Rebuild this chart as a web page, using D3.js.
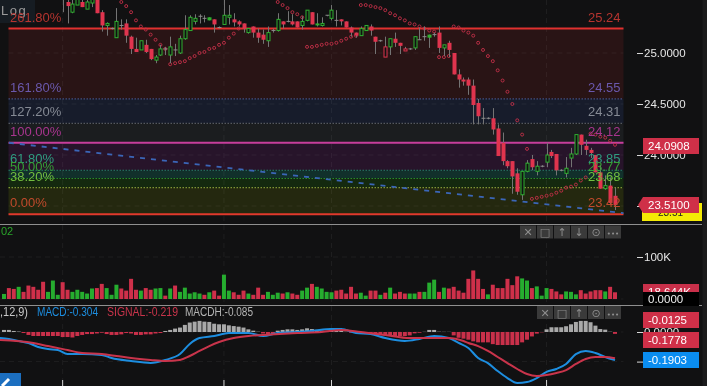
<!DOCTYPE html>
<html><head><meta charset="utf-8">
<script src="https://cdn.jsdelivr.net/npm/d3@7"></script>
<style>html,body{margin:0;padding:0;background:#111;overflow:hidden}svg{display:block;filter:blur(.45px)}text{font-family:"Liberation Sans",Arial,sans-serif}</style>
</head><body><svg id="c" width="707" height="386"></svg>
<script>
const candleStart = 12;
const opens = [25.55,25.50,25.40,25.47,25.50,25.43,25.49,25.54,25.40,25.27,25.24,25.15,25.27,25.29,25.16,25.04,25.03,25.08,25.04,24.93,24.98,25.04,24.98,25.03,25.00,25.14,25.22,25.31,25.36,25.34,25.35,25.33,25.25,25.28,25.35,25.33,25.31,25.29,25.20,25.26,25.20,25.18,25.12,25.22,25.22,25.31,25.31,25.31,25.31,25.27,25.32,25.40,25.29,25.27,25.37,25.34,25.32,25.33,25.31,25.25,25.20,25.17,25.22,25.26,25.16,25.12,24.96,25.06,25.14,25.10,25.02,25.04,25.05,25.13,25.16,25.18,25.18,25.20,25.05,25.10,25.00,24.79,24.74,24.74,24.68,24.51,24.36,24.36,24.36,24.26,24.12,23.94,23.94,23.82,23.61,23.84,23.96,23.84,23.89,23.93,24.03,24.01,23.85,23.82,23.97,24.01,24.20,24.09,24.05,24.00,23.83,23.67,23.70,23.60];
const closes = [25.53,25.46,25.48,25.53,25.45,25.50,25.54,25.39,25.27,25.29,25.24,25.31,25.27,25.17,25.04,25.01,25.12,25.01,24.94,24.96,25.04,25.04,25.06,25.03,25.14,25.23,25.35,25.34,25.36,25.34,25.32,25.28,25.25,25.37,25.37,25.30,25.28,25.24,25.24,25.20,25.15,25.13,25.20,25.22,25.33,25.28,25.31,25.28,25.25,25.31,25.42,25.28,25.27,25.29,25.37,25.42,25.32,25.31,25.25,25.20,25.17,25.24,25.27,25.22,25.11,25.12,25.06,25.14,25.10,25.07,25.04,25.04,25.16,25.13,25.16,25.15,25.18,25.05,25.08,25.03,24.79,24.74,24.72,24.68,24.49,24.38,24.36,24.36,24.25,23.99,23.94,23.89,23.79,23.64,23.84,23.92,23.88,23.89,23.89,24.00,23.99,23.85,23.85,23.87,24.01,24.20,24.10,24.05,24.02,23.83,23.67,23.70,23.53,23.51];
const highs = [25.57,25.52,25.55,25.55,25.55,25.55,25.55,25.56,25.42,25.30,25.25,25.44,25.33,25.33,25.17,25.15,25.12,25.13,25.04,24.98,25.08,25.06,25.16,25.09,25.17,25.37,25.37,25.38,25.38,25.37,25.35,25.33,25.26,25.52,25.47,25.39,25.32,25.29,25.24,25.26,25.24,25.23,25.26,25.24,25.39,25.31,25.41,25.38,25.31,25.36,25.42,25.40,25.39,25.35,25.37,25.47,25.42,25.33,25.31,25.26,25.20,25.26,25.27,25.28,25.16,25.13,25.16,25.14,25.20,25.10,25.06,25.05,25.16,25.25,25.26,25.18,25.20,25.26,25.08,25.12,25.00,24.84,24.76,24.76,24.74,24.55,24.46,24.37,24.46,24.30,24.22,23.95,23.94,23.87,23.84,23.95,24.00,23.94,23.90,24.12,24.05,24.01,23.86,23.98,24.07,24.20,24.20,24.15,24.07,24.00,23.90,23.80,23.78,23.68];
const lows = [25.40,25.29,25.39,25.47,25.45,25.43,25.45,25.39,25.21,25.17,25.23,25.15,25.23,25.10,24.99,25.01,25.03,25.00,24.93,24.90,24.97,24.98,24.90,24.97,24.99,25.13,25.22,25.28,25.29,25.30,25.32,25.20,25.24,25.28,25.28,25.26,25.26,25.20,25.19,25.15,25.10,25.09,25.06,25.20,25.21,25.24,25.30,25.27,25.25,25.23,25.31,25.28,25.26,25.26,25.36,25.32,25.26,25.27,25.25,25.16,25.15,25.17,25.22,25.17,24.99,25.11,24.96,24.98,25.06,24.99,25.02,25.03,25.03,25.13,25.12,25.05,25.16,25.00,24.97,24.96,24.79,24.66,24.68,24.59,24.30,24.30,24.30,24.35,24.20,23.99,23.90,23.87,23.62,23.61,23.56,23.83,23.85,23.80,23.88,23.88,23.97,23.80,23.84,23.78,23.88,24.00,24.00,24.00,23.97,23.83,23.67,23.66,23.51,23.46];
const redHollowBars = [78,82];
const greenSolidBars = [42,64,87];
const volumes = [12,26,24,29,17,32,29,22,41,17,44,10,40,22,17,22,17,13,25,26,36,26,10,34,25,20,48,22,20,26,22,25,26,8,25,32,17,27,13,16,13,10,16,20,8,58,20,16,10,20,13,10,27,10,17,10,15,13,16,13,10,20,27,36,29,25,17,16,20,22,13,29,13,15,8,20,20,10,15,27,13,17,13,13,13,17,17,39,46,17,27,25,29,20,15,48,68,48,24,11,34,26,26,48,33,54,49,44,26,30,8,26,24,18,11,18,17,11,21,13,18,21,21,18,29,16];
const volumeTones = "grrgrrrrrgggrrgggggrrgggrrrrgrrggrgrgggggrgrrggrrrgrrrgggrgrrggrggggrrrrrggrrgrgrrrggrgggrgrrrrrrrrgrrrrrrggrgggrrrgggrrrrrgrr";
const histogram = [.014,.014,.007,.003,-.007,-.02,-.027,-.027,-.027,-.027,-.027,-.027,-.034,-.034,-.037,-.027,-.02,-.014,-.014,-.01,-.005,-.014,-.02,-.02,-.016,-.007,-.01,-.02,-.02,-.016,-.016,-.01,-.007,.007,.014,.023,.03,.048,.064,.07,.075,.07,.068,.056,.052,.052,.045,.04,.036,.03,.018,.009,.002,-.01,-.016,-.02,.009,.014,.018,.018,.014,.018,.025,.02,.014,.009,.001,.023,.025,.018,.002,-.005,-.007,-.007,-.007,-.007,-.009,-.016,-.023,-.027,-.027,-.027,-.027,-.023,-.009,-.005,.001,.014,.014,.002,.001,.001,-.023,-.039,-.045,-.052,-.063,-.07,-.07,-.07,-.082,-.088,-.088,-.088,-.088,-.088,-.07,-.052,-.03,-.011,-.002,.018,.032,.032,.032,.039,.052,.068,.075,.075,.066,.043,.02,.016,.002,-.0125];
const macdBars = [-1,1,3,5,7,9,11,13,16,20,22,26,30,33,36,38,40,43,46,48,50,53,56,60,63,67,69,72,75,78,82,85,88,91,93,95,97,99,101,103,105,107,109,111,113,115,117,119,121,123,125];
const macdValues = [-.041,-.047,-.061,-.074,-.101,-.115,-.122,-.149,-.149,-.155,-.176,-.196,-.209,-.189,-.149,-.081,-.041,-.027,-.007,-.007,-.007,-.027,-.007,0,.007,.02,.02,-.007,-.014,-.041,-.061,-.047,-.027,-.041,-.074,-.108,-.176,-.21,-.264,-.311,-.345,-.338,-.311,-.27,-.25,-.216,-.149,-.128,-.142,-.169,-.1903];
const signalBars = [-1,6,9,13,16,20,23,26,30,33,36,38,40,42,44,47,50,53,60,65,69,73,78,83,87,91,94,95,97,99,101,103,105,107,109,111,113,115,117,119,121,123,125];
const signalValues = [-.054,-.074,-.095,-.122,-.142,-.149,-.162,-.176,-.189,-.196,-.189,-.162,-.128,-.095,-.068,-.041,-.027,-.02,-.007,0,.014,0,-.02,-.041,-.041,-.041,-.061,-.074,-.095,-.128,-.169,-.21,-.25,-.284,-.297,-.291,-.277,-.257,-.216,-.182,-.169,-.169,-.1778];
const sarBars = [24,25,26,27,28,29,30,31,32,33,34,35,36,37,38,39,40,41,42,43,44,45,46,47,48,56,57,58,59,60,61,62,63,64,65,66,67,68,69,70,71,72,73,74,75,76,77,78,79,80,81,82,83,84,85,86,87,88,89,90,91,92,93,94,95,96,97,98,99,100,101,102,103,104,105,106,107,108,109,110,111,112,113,114,115,116,117,118,119,120,121,122,123,124,125];
const sarValues = [25.50,25.46,25.40,25.32,25.26,25.23,25.18,25.13,25.08,25.04,24.89,24.90,24.91,24.92,24.95,24.97,25.00,25.01,25.04,25.05,25.08,25.10,25.15,25.19,25.24,25.50,25.47,25.44,25.40,25.38,25.35,25.06,25.06,25.07,25.08,25.09,25.09,25.10,25.12,25.14,25.16,25.17,25.47,25.47,25.46,25.45,25.44,25.42,25.39,25.37,25.34,25.32,25.29,25.28,25.26,25.24,25.22,25.21,24.96,24.96,24.97,25.26,25.25,25.22,25.20,25.17,25.10,25.03,24.97,24.92,24.83,24.73,24.62,24.50,24.34,24.20,24.06,23.57,23.58,23.59,23.60,23.61,23.63,23.65,23.68,23.69,23.71,23.75,23.78,24.21,24.20,24.18,24.17,24.14,24.10];
const fibPercents = ["261.80%","161.80%","127.20%","100.00%","61.80%","50.00%","38.20%","0.00%"];
const fibPrices = [25.24,24.55,24.31,24.12,23.85,23.77,23.68,23.42];
const fibLineColors = ["#e0312f","#454f80","#55585f","#c73e9c","#2a7f6b","#2a8c2a","#7f9635","#e0392c"];
const fibTextColors = ["#b5342f","#6a58ac","#858a94","#a8358f","#2f9c80","#35a035","#73bd3f","#c04a2c"];
const fibFills = ["#291415","#171c2b","#1b1d1f","#27142a","#11302b","#14290f","#24280f"];
const trendBars = [1,126];
const trendPrices = [24.12,23.43];
const gridBars = [12,45,67,111];
const priceTicks = [25,24.5,24,23.5];
const macdTicks = [0,-.2];

const svg = d3.select("#c");
const x = d3.scaleLinear().domain([0,125]).range([4,615]);
const yP = d3.scaleLinear().domain([25,24]).range([53,155]);
const yV = d3.scaleLinear().domain([0,100]).range([299,257]);
const yM = d3.scaleLinear().domain([0,-.2]).range([332,361.6]);
const L = 8.5, R = 623.5;

svg.append("rect").attr("width",707).attr("height",386).attr("fill","#111112");
svg.append("rect").attr("x",702.5).attr("width",4.5).attr("height",386).attr("fill","#1b1b1c");
svg.append("clipPath").attr("id","main").append("rect").attr("x",0).attr("y",0).attr("width",R).attr("height",224);

// fib zones
svg.selectAll(".z").data(fibFills).join("rect").attr("x",L).attr("width",R-L)
  .attr("y",(d,i)=>yP(fibPrices[i])).attr("height",(d,i)=>yP(fibPrices[i+1])-yP(fibPrices[i])).attr("fill",d=>d);

// grid
const grid = svg.append("g").attr("stroke","#fff").attr("stroke-opacity",.06).attr("stroke-dasharray","5 4");
grid.selectAll(".v").data(gridBars).join("line").attr("x1",x).attr("x2",x).attr("y1",0).attr("y2",380);
grid.selectAll(".h").data(priceTicks).join("line").attr("x1",L).attr("x2",R).attr("y1",yP).attr("y2",yP);
grid.selectAll(".m").data([100,0]).join("line").attr("x1",0).attr("x2",R).attr("y1",yV).attr("y2",yV);
grid.selectAll(".n").data(macdTicks).join("line").attr("x1",0).attr("x2",R).attr("y1",yM).attr("y2",yM);

// fib lines
svg.selectAll(".l").data(fibPrices).join("line").attr("x1",L).attr("x2",R).attr("y1",yP).attr("y2",yP)
  .attr("stroke",(d,i)=>fibLineColors[i]).attr("stroke-width",(d,i)=>[0,3,7].includes(i)?2:1.1)
  .attr("stroke-dasharray",(d,i)=>[0,3,7].includes(i)?null:"1.5 1.5");

// trend line
svg.append("line").attr("x1",x(trendBars[0])).attr("x2",R).attr("y1",yP(trendPrices[0])).attr("y2",yP(trendPrices[1]))
  .attr("stroke","#3b66b8").attr("stroke-width",1.8).attr("stroke-dasharray","5 6");

const main = svg.append("g").attr("clip-path","url(#main)");
// SAR
main.selectAll(".s").data(sarBars).join("circle").attr("cx",x).attr("cy",(d,i)=>yP(sarValues[i])).attr("r",1.5)
  .attr("fill","none").attr("stroke","#c43048").attr("stroke-width",.9);

// candles
const toneCol = {g:"#2fb030",r:"#e0344e"};
opens.forEach((o,k)=>{
  const bar = candleStart+k, c = closes[k], cx = Math.round(x(bar))+.5;
  const top = yP(Math.max(o,c)), bot = yP(Math.min(o,c));
  const flat = Math.abs(c-o)<.001;
  const hollow = c>o;
  let tone = c>o?"g":"r";
  if(redHollowBars.includes(bar)) tone="r";
  if(greenSolidBars.includes(bar)) tone="g";
  main.append("line").attr("x1",cx).attr("x2",cx).attr("y1",yP(highs[k])).attr("y2",yP(lows[k])).attr("stroke","#747474");
  if(flat){ main.append("line").attr("x1",cx-2).attr("x2",cx+2).attr("y1",top).attr("y2",top).attr("stroke","#8c8c8c"); }
  else if(hollow){ main.append("rect").attr("x",cx-1.5).attr("width",3).attr("y",top).attr("height",bot-top).attr("fill","#111").attr("stroke",toneCol[tone]); }
  else { main.append("rect").attr("x",cx-2).attr("width",4).attr("y",top).attr("height",bot-top).attr("fill",toneCol[tone]); }
});

// log button sits under the fib labels
svg.append("rect").attr("x",0).attr("y",0).attr("width",35).attr("height",23).attr("fill","#1a242b").attr("fill-opacity",.65);
svg.append("text").attr("x",1).attr("y",15).attr("font-size",13).attr("letter-spacing",1.5).attr("fill","#9a9a9a").text("Log");

// fib labels
const lab = svg.append("g").attr("font-size",13);
lab.selectAll(".a").data(fibPercents).join("text").attr("x",10).attr("y",(d,i)=>yP(fibPrices[i])-7).text(d=>d).attr("fill",(d,i)=>fibTextColors[i]);
lab.selectAll(".b").data(fibPrices).join("text").attr("x",620.5).attr("text-anchor","end").attr("y",d=>yP(d)-7).text(d=>d.toFixed(2)).attr("fill",(d,i)=>fibTextColors[i]);

// pane dividers
[224.5,305.5].forEach(y=>svg.append("line").attr("x1",0).attr("x2",702).attr("y1",y).attr("y2",y).attr("stroke","#8f8f8f"));

// volume
svg.selectAll(".vb").data(volumes).join("rect").attr("x",(d,i)=>x(i)-2).attr("width",4)
  .attr("y",d=>yV(d)).attr("height",d=>yV(0)-yV(d)).attr("fill",(d,i)=>volumeTones[i]==="g"?"#26ad2f":"#cf304a");

// MACD histogram
svg.selectAll(".hb").data(histogram).join("rect").attr("x",(d,i)=>x(i)-2).attr("width",4)
  .attr("y",d=>d>0?yM(d):yM(0)).attr("height",d=>Math.abs(yM(d)-yM(0))).attr("fill",d=>d>0?"#a9a9a9":"#c9304a");
const ln = (bars,vals,col)=>svg.append("path").attr("fill","none").attr("stroke",col).attr("stroke-width",2)
  .attr("d",d3.line().x((d,i)=>x(bars[i])).y(d=>yM(d)).curve(d3.curveMonotoneX)(vals));
ln(macdBars,macdValues,"#1d8ee0");
ln(signalBars,signalValues,"#c9344b");

// axes
const axisStyle = g=>{g.select(".domain").remove();g.selectAll("line").attr("stroke","#d8d8d8");g.selectAll("text").attr("fill","#e6e6e6").attr("font-size",11.5).attr("font-family","Liberation Sans");};
svg.append("g").attr("transform","translate(637,0)").call(d3.axisRight(yP).tickValues(priceTicks).tickFormat(d3.format(".4f")).tickSize(6).tickPadding(1)).call(axisStyle);
svg.append("g").attr("transform","translate(637,0)").call(d3.axisRight(yV).tickValues([100]).tickFormat(d=>d+"K").tickSize(6).tickPadding(1)).call(axisStyle);
svg.append("g").attr("transform","translate(637,0)").call(d3.axisRight(yM).tickValues(macdTicks).tickFormat(d3.format(".4f")).tickSize(6).tickPadding(1)).call(axisStyle);

// bottom ticks
svg.selectAll(".t").data(gridBars).join("line").attr("x1",x).attr("x2",x).attr("y1",380).attr("y2",386).attr("stroke","#d8d8d8");

// tags
function tag(y,h,fill,text,col,arrow){
  svg.append("rect").attr("x",643).attr("y",y).attr("width",56).attr("height",h).attr("fill",fill);
  if(arrow) svg.append("path").attr("d",`M643 ${y} L638 ${y+h/2} L643 ${y+h}Z`).attr("fill",fill);
  svg.append("text").attr("x",648).attr("y",y+h/2+4).attr("font-size",11.5).attr("fill",col).text(text);
}
svg.append("rect").attr("x",642).attr("y",203).attr("width",60).attr("height",18).attr("fill","#f4ea05");
svg.append("text").attr("x",658).attr("y",215.5).attr("font-size",10).attr("fill","#222").text("23.51");
tag(138,16,"#cf3048","24.0908","#fff");
tag(197,16,"#cf3048","23.5100","#fff",true);
tag(284,16,"#c9304a","18.644K","#fff");
tag(292,14,"#000","0.0000","#eee");
tag(312,16,"#cf3048","-0.0125","#fff");
tag(332,16,"#cf3048","-0.1778","#fff");
tag(352,16,"#0a8df0","-0.1903","#fff");

// toolbars
function toolbar(x0,y,icons){
  const w=17;
  icons.forEach((ic,i)=>{
    svg.append("rect").attr("x",x0+i*w).attr("y",y).attr("width",w-1).attr("height",13).attr("fill","#3a3a3a");
    svg.append("text").attr("x",x0+i*w+8).attr("y",y+10.5).attr("text-anchor","middle").attr("font-size",ic==="•••"?7:11).style("font-family","DejaVu Sans").attr("fill","#8e8e8e").text(ic);
  });
}
toolbar(520,225.5,["✕","□","↑","↓","⊙","•••"]);
toolbar(537,306,["✕","□","↑","⊙","•••"]);

// texts
svg.append("text").attr("x",1).attr("y",235).attr("font-size",11).attr("fill","#2aa52a").text("02");
const ly=315.5;
const legend=(tx,w,col,t)=>svg.append("text").attr("x",tx).attr("y",ly).attr("font-size",12).attr("textLength",w).attr("lengthAdjust","spacingAndGlyphs").attr("fill",col).text(t);
legend(-6,34,"#c8c8c8","5,12,9)");
legend(37,61,"#1d8ee0","MACD:-0.304");
legend(107,71,"#c9344b","SIGNAL:-0.219");
legend(185,68,"#b5b5b5","MACDH:-0.085");

// edit button
svg.append("rect").attr("x",0).attr("y",373).attr("width",21).attr("height",13).attr("fill","#1c6fc0");
svg.append("line").attr("x1",2).attr("y1",386).attr("x2",9).attr("y2",379).attr("stroke","#fff").attr("stroke-width",3);
</script></body></html>
